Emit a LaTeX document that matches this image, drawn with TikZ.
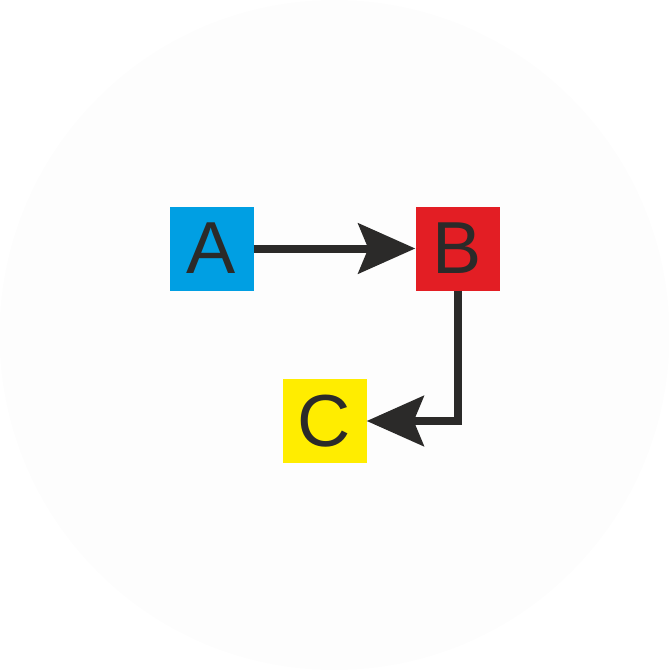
\documentclass[tikz,border=0pt]{standalone}
\usepackage{fontspec}
\setmainfont{Liberation Sans}
\usetikzlibrary{arrows.meta}
\definecolor{boxblue}{HTML}{009FE3}
\definecolor{boxred}{HTML}{E31E24}
\definecolor{boxyellow}{HTML}{FFED00}
\definecolor{inkdark}{HTML}{2B2A29}
\definecolor{bgdisc}{HTML}{FDFDFD}
\tikzset{
  letterbox/.style={minimum size=84bp, inner sep=0pt, text=inkdark,
    font=\fontsize{74}{80}\selectfont},
  conn/.style={draw=inkdark, line width=8bp,
    -{Stealth[length=57bp, width=50bp, inset=10bp]}},
}
\begin{document}
\begin{tikzpicture}[x=1bp, y=-1bp, line join=miter]
\useasboundingbox (0,0) rectangle (669,670);
\fill[bgdisc] (334.5,335) circle (335);
\node[letterbox, fill=boxblue] (A) at (211.5,248.5) {A};
\node[letterbox, fill=boxred] (B) at (457.5,248.5) {B};
\node[letterbox, fill=boxyellow] (C) at (324.5,421) {C};
\draw[conn] (A) -- (B);
\draw[conn] (B.south) |- (C.east);
\end{tikzpicture}
\end{document}
